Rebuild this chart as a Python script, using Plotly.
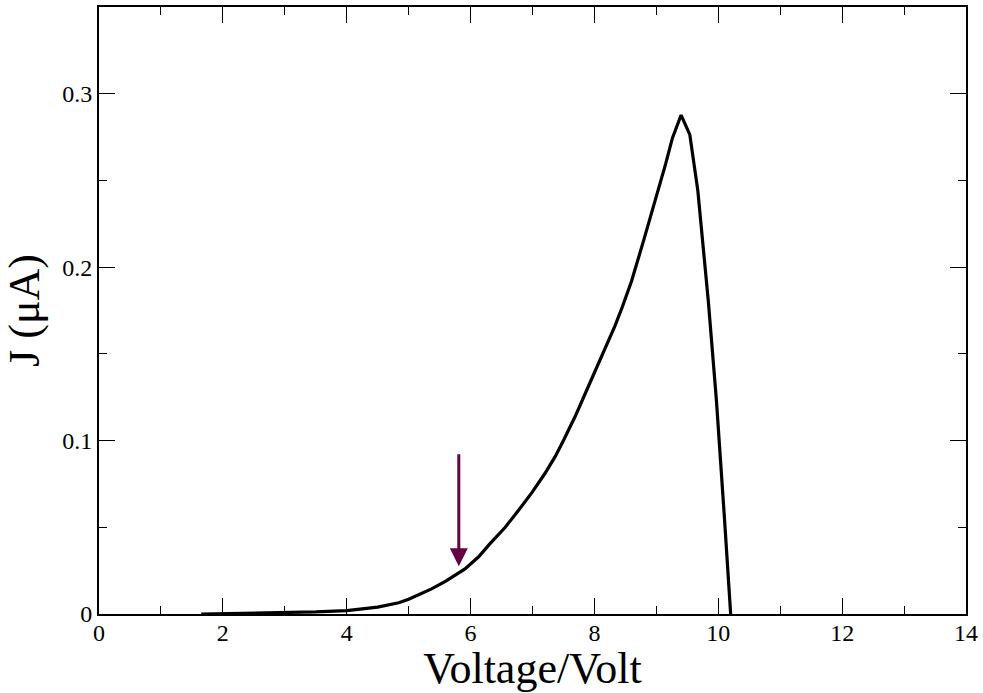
import plotly.graph_objects as go

voltage = [1.65, 2.0, 2.5, 3.0, 3.5, 4.0, 4.5, 4.84, 5.0, 5.37, 5.6, 5.91, 6.13, 6.3, 6.56,
           6.8, 6.99, 7.2, 7.37, 7.5, 7.69, 7.85, 8.01, 8.2, 8.33, 8.45, 8.6, 8.8, 9.0, 9.15,
           9.26, 9.40, 9.54, 9.67, 9.84, 9.97, 10.10, 10.2]
current = [0.0, 0.0002, 0.0004, 0.0007, 0.0012, 0.002, 0.004, 0.0065, 0.0085, 0.0145, 0.019,
           0.026, 0.033, 0.040, 0.050, 0.061, 0.070, 0.081, 0.091, 0.100, 0.114, 0.127, 0.140,
           0.155, 0.166, 0.177, 0.192, 0.216, 0.240, 0.2595, 0.2745, 0.2877, 0.2764, 0.244,
           0.180, 0.123, 0.055, 0.0]

arrow_x = 5.81
arrow_tail_y = 0.093
arrow_head_y = 0.0275

x_ticks = [0, 2, 4, 6, 8, 10, 12, 14]
y_ticks = [0, 0.1, 0.2, 0.3]

font_family = "Liberation Serif"

fig = go.Figure()
fig.add_trace(go.Scatter(x=voltage, y=current, mode="lines",
                         line=dict(color="black", width=3.2), showlegend=False))

fig.add_annotation(x=arrow_x, y=arrow_head_y, ax=arrow_x, ay=arrow_tail_y,
                   xref="x", yref="y", axref="x", ayref="y",
                   showarrow=True, arrowhead=2, arrowsize=1.2, arrowwidth=3,
                   arrowcolor="#660044", text="")

axis_common = dict(showline=True, linecolor="black", linewidth=2, mirror="ticks",
                   ticks="inside", ticklen=16, tickwidth=1.2, tickcolor="black",
                   showgrid=False, zeroline=False,
                   tickfont=dict(family=font_family, size=24, color="black"))

fig.update_xaxes(range=[0, 14], tickvals=x_ticks, ticklabelstandoff=-4,
                 minor=dict(ticks="inside", ticklen=8, dtick=1, tick0=0, tickcolor="black", tickwidth=1.2, showgrid=False),
                 title=dict(text="Voltage/Volt", font=dict(family=font_family, size=44, color="black"), standoff=0),
                 **axis_common)
fig.update_yaxes(range=[0, 0.35], tickvals=y_ticks,
                 minor=dict(ticks="inside", ticklen=8, dtick=0.05, tick0=0, tickcolor="black", tickwidth=1.2, showgrid=False),
                 title=dict(text="J (μA)", font=dict(family=font_family, size=44, color="black"), standoff=10),
                 **axis_common)

fig.update_layout(width=983, height=693, margin=dict(l=99, r=15, t=5, b=79),
                  plot_bgcolor="white", paper_bgcolor="white",
                  font=dict(family=font_family, color="black"))

fig.write_html("out.html", config={"displayModeBar": False},
               post_script="document.body.style.margin='0';document.body.style.padding='0';")
